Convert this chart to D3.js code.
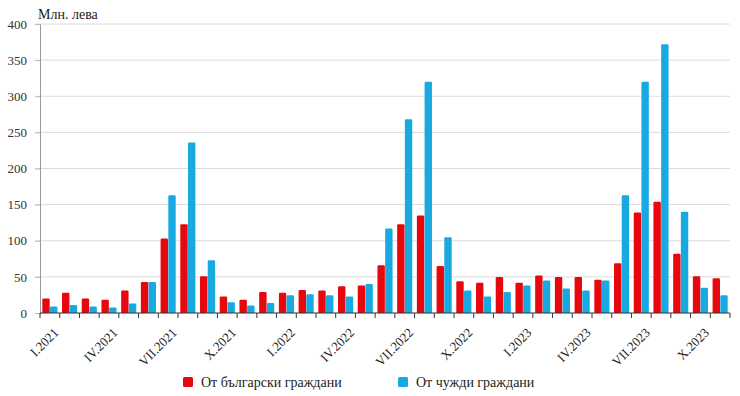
<!DOCTYPE html>
<html><head><meta charset="utf-8">
<script src="https://cdn.jsdelivr.net/npm/d3@7/dist/d3.min.js"></script>
<style>body{margin:0;background:#fff}svg{display:block}svg text{font-family:"Liberation Serif","Times New Roman","DejaVu Serif",serif !important}</style>
</head><body><svg id="c" width="740" height="396"></svg>
<script>
const months = ["I.2021","II.2021","III.2021","IV.2021","V.2021","VI.2021","VII.2021","VIII.2021","IX.2021","X.2021","XI.2021","XII.2021",
"I.2022","II.2022","III.2022","IV.2022","V.2022","VI.2022","VII.2022","VIII.2022","IX.2022","X.2022","XI.2022","XII.2022",
"I.2023","II.2023","III.2023","IV.2023","V.2023","VI.2023","VII.2023","VIII.2023","IX.2023","X.2023","XI.2023"];
const bulgarian = [20,28,20,18.5,31,43,103,123,51,23,18.5,29,28,32,31,37,38,66,123,135,65,44,42,50,42,52,50,50,46,69,139,154,82,51,48];
const foreign = [9,11,9,7.5,13,43,163,236,73,15,10.5,14,24.5,26,24.5,23,40,117,268,320,105,31,23,29,38,45,34,31,45,163,320,372,140,35,24.5];
const seriesNames = ["От български граждани","От чужди граждани"];
const colors = ["#e8070d","#19a9e1"];
const yTicks = [0,50,100,150,200,250,300,350,400];
const yTitle = "Млн. лева";

const svg = d3.select("#c");
const L = 40, R = 730, T = 24, B = 313;
const x0 = d3.scaleBand().domain(d3.range(months.length)).range([L, R]).padding(0);
const x1 = d3.scaleBand().domain([0,1]).range([0, x0.bandwidth()]).paddingInner(0.04).paddingOuter(0.3);
const y = d3.scaleLinear().domain([0,400]).range([B, T]);

// grid
svg.append("g").selectAll("line").data(yTicks.filter(d=>d>0)).join("line")
  .attr("x1", L-5).attr("x2", R).attr("y1", d=>y(d)).attr("y2", d=>y(d))
  .attr("stroke", "#dcdcdc").attr("stroke-width", 1);

// y axis
const ya = svg.append("g").attr("transform", `translate(${L},0)`)
  .call(d3.axisLeft(y).tickValues(yTicks).tickSize(5).tickPadding(8));
ya.attr("font-family", null);
ya.select(".domain").attr("stroke", "#999");
ya.selectAll(".tick line").attr("stroke", "#bbb");
ya.selectAll("text").attr("font-size", 13).attr("fill", "#333");

// bars
const data = months.map((m,i)=>[bulgarian[i], foreign[i]]);
const g = svg.append("g");
data.forEach((vals,i)=>{
  vals.forEach((v,s)=>{
    const bx = x0(i) + x1(s), bw = x1.bandwidth(), by = y(v);
    g.append("path")
      .attr("d", `M${bx},${y(0)}V${by+1.2}Q${bx},${by} ${bx+1.2},${by}H${bx+bw-1.2}Q${bx+bw},${by} ${bx+bw},${by+1.2}V${y(0)}Z`)
      .attr("fill", colors[s]);
  });
});

// x axis
const xa = svg.append("g").attr("transform", `translate(0,${B})`);
xa.append("line").attr("x1", L).attr("x2", R).attr("stroke", "#333").attr("stroke-width", 1.2);
xa.selectAll(".tk").data(d3.range(months.length+1)).join("line").attr("class","tk")
  .attr("x1", d=>L + d*x0.step()).attr("x2", d=>L + d*x0.step()).attr("y1",0).attr("y2",5)
  .attr("stroke", "#333");
xa.selectAll(".lb").data(d3.range(0, months.length, 3)).join("text").attr("class","lb")
  .attr("transform", d=>`translate(${x0(d)+x0.bandwidth()/2+3},${14}) rotate(-45)`)
  .attr("text-anchor", "end").attr("dy", "0.7em")
  .attr("font-size", 13).attr("fill", "#222").text(d=>months[d]);

// y title
svg.append("text").attr("x", 38).attr("y", 19).attr("font-size", 14).attr("fill", "#222").text(yTitle);

// legend
const lg = svg.append("g");
const legX = [183, 398];
seriesNames.forEach((n,i)=>{
  lg.append("rect").attr("x", legX[i]).attr("y", 377).attr("width", 10).attr("height", 10).attr("rx", 1.5).attr("fill", colors[i]);
  lg.append("text").attr("x", legX[i]+18).attr("y", 387).attr("font-size", 14).attr("fill", "#222").text(n);
});
</script></body></html>
